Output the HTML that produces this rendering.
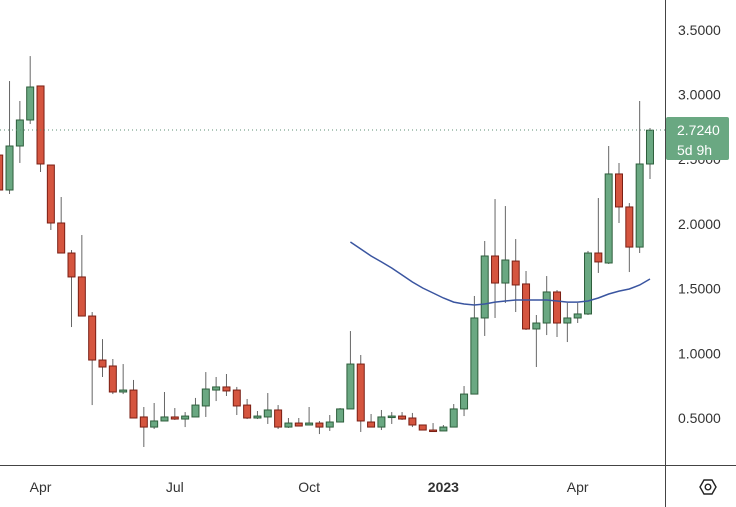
<!DOCTYPE html>
<html><head><meta charset="utf-8"><style>
html,body{margin:0;padding:0;background:#fff;}
svg{display:block;font-family:"Liberation Sans",sans-serif;}
</style></head><body>
<svg id="chart" width="736" height="507" viewBox="0 0 736 507" xmlns="http://www.w3.org/2000/svg">
<g id="grid"></g>
<g id="candles"></g>
<path id="ma" fill="none" stroke="#3a55a0" stroke-width="1.5"/>
<line x1="0" x2="666" y1="130" y2="130" stroke="#5e8f74" stroke-dasharray="1,3" stroke-width="1"/>
<line x1="665.5" x2="665.5" y1="0" y2="507" stroke="#444" stroke-width="1"/>
<line x1="0" x2="736" y1="465.5" y2="465.5" stroke="#444" stroke-width="1"/>
<g id="yticks"></g>
<g id="xticks"></g>
<g>
<rect x="666" y="117" width="63" height="43" rx="2" fill="#6aa882"/>
<text x="677" y="135" font-size="14" fill="#fff">2.7240</text>
<text x="677" y="155" font-size="14" fill="#fff">5d 9h</text>
</g>
<g>
<polygon points="700,487 704,480 712,480 716,487 712,494 704,494" fill="none" stroke="#222" stroke-width="1.4"/>
<circle cx="708" cy="487" r="2.8" fill="none" stroke="#222" stroke-width="1.4"/>
</g>
</svg>
<script>
const opens  =[2.532,2.262,2.602,2.803,3.066,2.455,2.007,1.775,1.590,1.288,0.948,0.902,0.701,0.716,0.508,0.430,0.477,0.508,0.492,0.508,0.593,0.716,0.740,0.716,0.600,0.500,0.508,0.562,0.430,0.461,0.446,0.461,0.430,0.469,0.570,0.917,0.469,0.430,0.508,0.515,0.500,0.446,0.407,0.400,0.430,0.570,0.685,1.273,1.752,1.543,1.713,1.536,1.188,1.234,1.474,1.234,1.273,1.304,1.775,1.698,2.386,2.131,1.821,2.463];
const highs  =[2.571,3.104,2.950,3.297,3.066,2.455,2.208,1.798,1.914,1.319,1.110,0.956,0.917,0.794,0.585,0.616,0.701,0.577,0.546,0.655,0.855,0.817,0.840,0.740,0.647,0.554,0.693,0.600,0.500,0.500,0.585,0.477,0.523,0.577,1.172,0.987,0.531,0.562,0.546,0.546,0.539,0.446,0.461,0.446,0.608,0.747,1.443,1.868,2.192,2.138,1.883,1.636,1.296,1.597,1.489,1.389,1.389,1.791,2.200,2.602,2.471,2.161,2.950,2.741];
const lows   =[2.239,2.231,2.471,2.772,2.401,1.953,1.775,1.203,1.288,0.600,0.817,0.685,0.685,0.500,0.276,0.415,0.477,0.485,0.430,0.508,0.508,0.631,0.670,0.523,0.492,0.492,0.454,0.415,0.423,0.438,0.446,0.376,0.400,0.469,0.570,0.392,0.430,0.407,0.454,0.485,0.430,0.407,0.400,0.400,0.430,0.515,0.685,1.134,1.273,1.389,1.319,1.180,0.894,1.141,1.126,1.087,1.234,1.296,1.621,1.690,2.007,1.628,1.775,2.347];
const closes =[2.262,2.602,2.803,3.058,2.463,2.007,1.775,1.590,1.288,0.948,0.894,0.701,0.716,0.500,0.430,0.477,0.508,0.492,0.515,0.600,0.724,0.740,0.709,0.593,0.500,0.515,0.562,0.430,0.461,0.438,0.461,0.430,0.469,0.570,0.917,0.477,0.430,0.508,0.515,0.492,0.446,0.407,0.400,0.430,0.570,0.685,1.273,1.752,1.543,1.721,1.528,1.188,1.234,1.474,1.234,1.273,1.304,1.775,1.706,2.386,2.131,1.821,2.463,2.724];
const maStart = 34;
const maValues=[1.860,1.806,1.752,1.706,1.659,1.605,1.551,1.505,1.466,1.427,1.396,1.381,1.373,1.381,1.396,1.404,1.412,1.412,1.412,1.412,1.404,1.396,1.396,1.404,1.427,1.458,1.481,1.497,1.528,1.574];
const yTickValues=[3.5,3.0,2.5,2.0,1.5,1.0,0.5];
const yTickLabels=["3.5000","3.0000","2.5000","2.0000","1.5000","1.0000","0.5000"];
const xTickIndex=[4,17,30,43,56];
const xTickLabels=["Apr","Jul","Oct","2023","Apr"];

const NS="http://www.w3.org/2000/svg";
function y(v){return 418-(v-0.5)*129.4;}
function x(i){return -0.8+i*10.33;}
function mk(tag,attrs,parent){const e=document.createElementNS(NS,tag);for(const k in attrs)e.setAttribute(k,attrs[k]);parent.appendChild(e);return e;}

const cg=document.getElementById('candles');
for(let i=0;i<opens.length;i++){
  const up=closes[i]>=opens[i];
  const fill=up?'#6aa882':'#d5553f', stroke=up?'#2e5e3c':'#7a1f14';
  const g=mk('g',{},cg);
  
  
  mk('line',{x1:x(i),x2:x(i),y1:y(highs[i]),y2:y(lows[i]),stroke:'#666','stroke-width':1},g);
  const top=y(Math.max(opens[i],closes[i])), bot=y(Math.min(opens[i],closes[i]));
  mk('rect',{x:x(i)-3.5,y:top,width:7,height:Math.max(1.5,bot-top),fill:fill,stroke:stroke,'stroke-width':1},g);
}
let d='';
maValues.forEach((v,k)=>{d+=(k?'L':'M')+x(maStart+k).toFixed(1)+','+y(v).toFixed(1);});
document.getElementById('ma').setAttribute('d',d);

const yt=document.getElementById('yticks');
yTickValues.forEach((v,k)=>{
  const t=mk('text',{x:678,y:y(v)+5,'font-size':14,fill:'#333'},yt);
  
  
  t.textContent=yTickLabels[k];
});
const xt=document.getElementById('xticks');
xTickIndex.forEach((idx,k)=>{
  const t=mk('text',{x:x(idx),y:492,'font-size':14,fill:'#333','text-anchor':'middle','font-weight':xTickLabels[k]==='2023'?'bold':'normal'},xt);
  
  
  t.textContent=xTickLabels[k];
});
</script>
</body></html>
